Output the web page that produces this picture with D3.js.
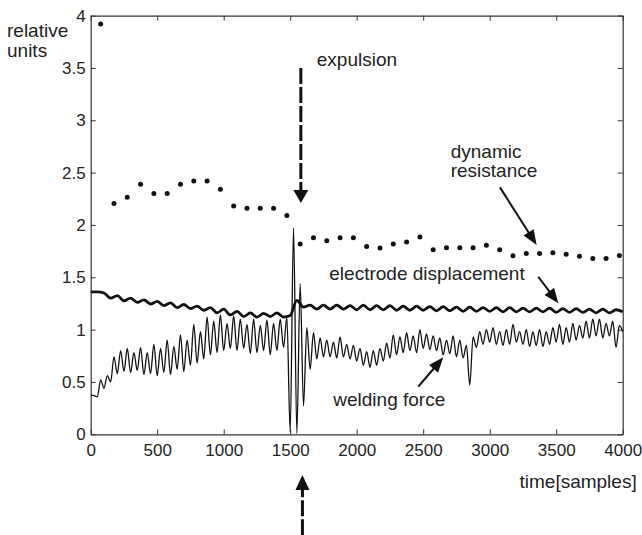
<!DOCTYPE html>
<html><head><meta charset="utf-8">
<script src="https://cdn.jsdelivr.net/npm/d3@7"></script>
<style>html,body{margin:0;padding:0;background:#fff;}svg{display:block;}</style>
</head><body>
<svg id="chart" width="642" height="535"></svg>
<script>
// ---------- data ----------
const xTicks = [0, 500, 1000, 1500, 2000, 2500, 3000, 3500, 4000];
const yTicks = [0, 0.5, 1, 1.5, 2, 2.5, 3, 3.5, 4];
const yTickLabels = ["0", "0.5", "1", "1.5", "2", "2.5", "3", "3.5", "4"];

// dynamic resistance (dots)
const resT = [75,175,275,375,475,575,675,775,875,975,1075,1175,1275,1375,1475,
  1575,1675,1775,1875,1975,2075,2175,2275,2375,2475,2575,2675,2775,2875,2975,
  3075,3175,3275,3375,3475,3575,3675,3775,3875,3975];
const resV = [3.92,2.205,2.265,2.39,2.30,2.30,2.39,2.42,2.42,2.34,2.18,2.16,2.16,2.16,2.09,
  1.817,1.878,1.85,1.878,1.878,1.795,1.78,1.817,1.836,1.884,1.763,1.782,1.782,1.782,1.807,
  1.763,1.706,1.728,1.728,1.734,1.72,1.70,1.68,1.68,1.709];

// electrode displacement, one value every 50 samples
const dispStep = 50;
const dispV = [1.36,1.36,1.35,1.30,1.325,1.275,1.30,1.26,1.285,1.245,
  1.27,1.23,1.255,1.21,1.24,1.20,1.225,1.185,1.21,1.16,
  1.195,1.14,1.175,1.125,1.16,1.12,1.155,1.125,1.16,1.12,
  1.135,1.28,1.215,1.235,1.195,1.235,1.195,1.235,1.195,1.23,
  1.19,1.235,1.19,1.23,1.19,1.23,1.185,1.225,1.185,1.225,
  1.185,1.22,1.18,1.22,1.18,1.215,1.175,1.215,1.175,1.21,
  1.175,1.21,1.17,1.21,1.17,1.205,1.17,1.205,1.17,1.205,
  1.165,1.20,1.165,1.20,1.165,1.195,1.16,1.195,1.16,1.19,1.17];

// welding force, one value every 25 samples
const forceStep = 25;
const forceV = [0.375,0.37,0.36,0.52,0.44,0.56,0.50,0.74,0.58,0.80,
  0.60,0.82,0.59,0.78,0.61,0.83,0.57,0.78,0.58,0.86,
  0.56,0.82,0.59,0.90,0.57,0.84,0.62,0.95,0.60,0.90,
  0.66,1.05,0.68,0.98,0.72,1.12,0.76,1.08,0.78,1.14,
  0.80,1.06,0.82,1.13,0.80,1.10,0.82,1.05,0.77,1.10,
  0.78,1.04,0.80,1.09,0.76,1.06,0.80,1.10,0.83,1.12,
  0.02,1.97,0.01,1.44,0.27,1.02,0.62,0.97,0.72,0.92,
  0.74,0.90,0.74,0.88,0.73,0.93,0.74,0.86,0.72,0.85,
  0.70,0.82,0.66,0.79,0.64,0.80,0.66,0.82,0.70,0.87,
  0.73,0.95,0.76,0.93,0.78,0.97,0.80,0.94,0.78,1.00,
  0.82,0.96,0.81,0.94,0.80,0.92,0.76,0.90,0.77,0.94,
  0.74,0.90,0.73,0.85,0.47,0.93,0.83,0.98,0.86,1.00,
  0.88,1.02,0.86,0.98,0.85,1.00,0.86,1.05,0.88,0.98,
  0.86,1.00,0.84,0.98,0.85,1.00,0.84,0.98,0.86,1.02,
  0.88,1.05,0.86,1.02,0.88,1.06,0.90,1.04,0.92,1.08,
  0.92,1.10,0.94,1.10,0.92,1.06,0.94,1.08,0.83,1.04,0.98];

// annotations (data units)
const labelExpulsion = {text: "expulsion", x: 1700, y: 3.52};
const labelResistance = {lines: ["dynamic", "resistance"], x: 2707, y: [2.639, 2.458]};
const labelDisp = {text: "electrode displacement", x: 1794, y: 1.474};
const labelForce = {text: "welding force", x: 1824, y: 0.27};
const arrowExpTop = {x1: 1580, y1: 3.5, x2: 1580, y2: 2.21};
const arrowExpBottom = {x1: 1592, y1: -0.965, x2: 1592, y2: -0.39};
const arrowRes = {x1: 3077, y1: 2.359, x2: 3353, y2: 1.808};
const arrowDisp = {x1: 3365, y1: 1.505, x2: 3516, y2: 1.251};
const arrowForce = {x1: 2463, y1: 0.455, x2: 2651, y2: 0.735};

// ---------- drawing ----------
const FONT = "'Liberation Sans', Arial, Helvetica, sans-serif";
const svg = d3.select("#chart");
const L = 90.7, R = 622.7, T = 15.6, B = 434.3;
const x = d3.scaleLinear().domain([0, 4000]).range([L, R]);
const y = d3.scaleLinear().domain([0, 4]).range([B, T]);

const axisColor = "#333";
const tickLen = 5;

const gB = svg.append("g").attr("transform", `translate(0,${B})`)
  .call(d3.axisBottom(x).tickValues(xTicks).tickFormat(d3.format("d")).tickSizeInner(-tickLen).tickSizeOuter(0).tickPadding(10));
const gT = svg.append("g").attr("transform", `translate(0,${T})`)
  .call(d3.axisTop(x).tickValues(xTicks).tickFormat("").tickSizeInner(-tickLen).tickSizeOuter(0));
const gL = svg.append("g").attr("transform", `translate(${L},0)`)
  .call(d3.axisLeft(y).tickValues(yTicks).tickFormat((d, i) => yTickLabels[i]).tickSizeInner(-tickLen).tickSizeOuter(0).tickPadding(5));
const gR = svg.append("g").attr("transform", `translate(${R},0)`)
  .call(d3.axisRight(y).tickValues(yTicks).tickFormat("").tickSizeInner(-tickLen).tickSizeOuter(0));
[gB, gT, gL, gR].forEach(g => {
  g.select(".domain").attr("stroke", axisColor).attr("stroke-width", 1.2);
  g.selectAll(".tick line").attr("stroke", axisColor).attr("stroke-width", 1);
  g.selectAll(".tick text").attr("fill", "#222").style("font-family", FONT).style("font-size", "17px");
});

const plot = svg.append("g");
const dispData = dispV.map((v, i) => [i * dispStep, v]);
const forceData = forceV.map((v, i) => [i * forceStep, v]);

plot.append("path")
  .attr("d", d3.line().x(d => x(d[0])).y(d => y(d[1])).curve(d3.curveMonotoneX)(forceData))
  .attr("fill", "none").attr("stroke", "#111").attr("stroke-width", 1.3);

plot.append("path")
  .attr("d", d3.line().x(d => x(d[0])).y(d => y(d[1])).curve(d3.curveMonotoneX)(dispData))
  .attr("fill", "none").attr("stroke", "#111").attr("stroke-width", 2.8).attr("stroke-linejoin", "round");

plot.selectAll("circle.res").data(resT.map((t, i) => [t, resV[i]])).enter()
  .append("circle").attr("class", "res")
  .attr("cx", d => x(d[0])).attr("cy", d => y(d[1])).attr("r", 2.5).attr("fill", "#111");

function txt(s, xv, yv) {
  return svg.append("text").attr("x", x(xv)).attr("y", y(yv)).text(s)
    .style("font-family", FONT).style("font-size", "19px").attr("fill", "#222");
}
txt(labelExpulsion.text, labelExpulsion.x, labelExpulsion.y);
labelResistance.lines.forEach((s, i) => txt(s, labelResistance.x, labelResistance.y[i]));
txt(labelDisp.text, labelDisp.x, labelDisp.y);
txt(labelForce.text, labelForce.x, labelForce.y);

svg.append("text").attr("x", 7).attr("y", 37).text("relative")
  .style("font-family", FONT).style("font-size", "19px").attr("fill", "#222");
svg.append("text").attr("x", 7).attr("y", 57).text("units")
  .style("font-family", FONT).style("font-size", "19px").attr("fill", "#222");
svg.append("text").attr("x", R + 14).attr("y", 488).attr("text-anchor", "end").text("time[samples]")
  .style("font-family", FONT).style("font-size", "19px").attr("fill", "#222");

function arrow(a, opts) {
  const X1 = x(a.x1), Y1 = y(a.y1), X2 = x(a.x2), Y2 = y(a.y2);
  const dx = X2 - X1, dy = Y2 - Y1, len = Math.hypot(dx, dy);
  const ux = dx / len, uy = dy / len;
  const hl = opts.headLen, hw = opts.headW / 2;
  const bx = X2 - ux * hl, by = Y2 - uy * hl;
  const shaft = svg.append("line").attr("x1", X1).attr("y1", Y1).attr("x2", bx + ux * 1).attr("y2", by + uy * 1)
    .attr("stroke", "#111").attr("stroke-width", opts.sw);
  if (opts.dash) shaft.attr("stroke-dasharray", opts.dash);
  svg.append("path").attr("d",
    `M${X2},${Y2}L${bx - uy * hw},${by + ux * hw}L${bx + uy * hw},${by - ux * hw}Z`).attr("fill", "#111");
}
arrow(arrowExpTop, {headLen: 13, headW: 15, sw: 3, dash: "16,3"});
arrow(arrowExpBottom, {headLen: 15, headW: 14, sw: 3, dash: "16,3"});
arrow(arrowRes, {headLen: 15, headW: 12, sw: 2});
arrow(arrowDisp, {headLen: 15, headW: 12, sw: 2});
arrow(arrowForce, {headLen: 15, headW: 12, sw: 2});
</script>
</body></html>
